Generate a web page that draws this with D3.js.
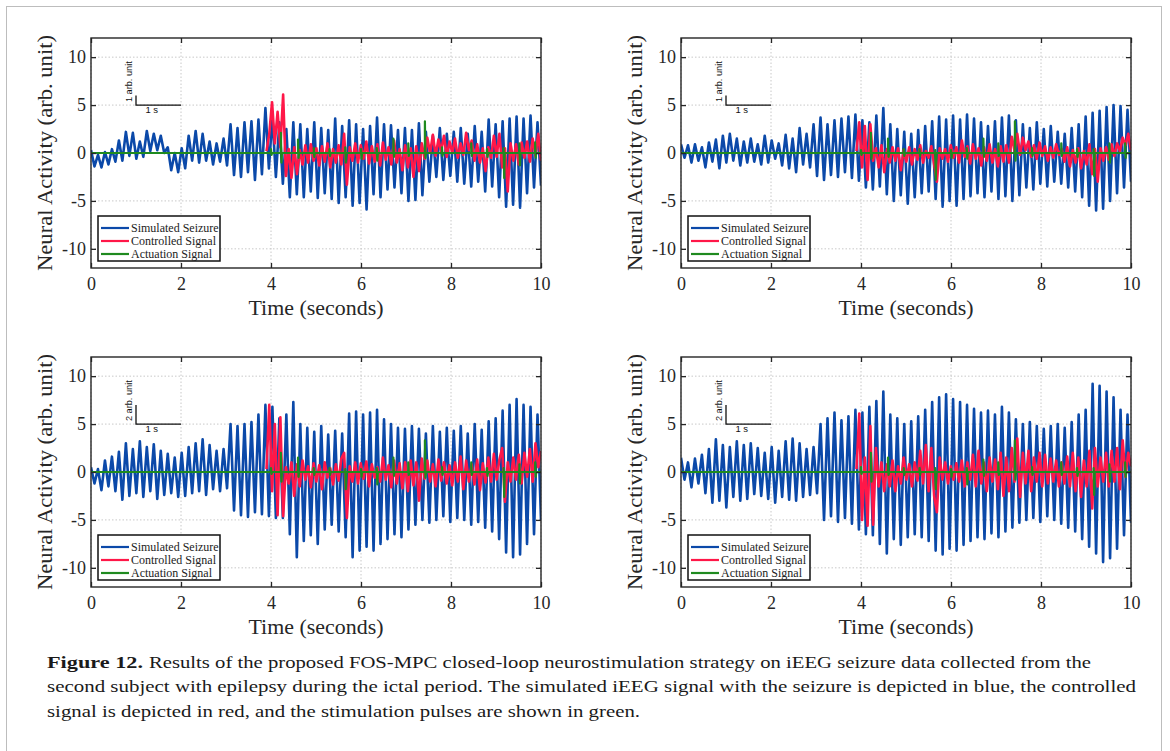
<!DOCTYPE html>
<html><head><meta charset="utf-8">
<script src="https://cdn.jsdelivr.net/npm/d3@7"></script>
<style>
body{margin:0;background:#fff;}
svg{display:block;}
</style></head><body>
<svg id="fig" width="1170" height="751"></svg>
<script>
// ---------------- DATA ----------------
const timeTicks = [0, 2, 4, 6, 8, 10];
const valueTicks = [-10, -5, 0, 5, 10];
const timeDomain = [0, 10];
const valueDomain = [-12, 12];
const legendLabels = ["Simulated Seizure", "Controlled Signal", "Actuation Signal"];
const xLabel = "Time (seconds)";
const yLabel = "Neural Activity (arb. unit)";
const scaleBarUnits = [1, 1, 2, 2];
const scaleBarLabels = ["1 arb. unit", "1 arb. unit", "2 arb. unit", "2 arb. unit"];
const scaleBarTimeLabel = "1 s";
const controlStart = 3.9;

// Simulated seizure: [peak, trough] per oscillation cycle, evenly spaced over 0-10 s
const seizure1 = [[0.3,-1.4],[-0.2,-1.5],[0.1,-1.2],[0.4,-0.9],[1.3,-0.8],[2.2,-0.3],[2.1,-0.6],[1.2,-0.4],[2.3,0.2],[2.0,0.3],
[1.8,0.0],[0.6,-1.8],[0.0,-2.0],[0.5,-1.6],[1.8,-0.8],[2.3,-1.0],[2.0,-0.8],[1.2,-1.2],[1.0,-0.9],[1.5,-1.3],
[3.0,-2.3],[2.6,-2.5],[3.2,-2.0],[3.3,-2.8],[3.5,-2.2],[4.7,-1.6],[3.8,-2.5],[3.2,-3.2],[2.5,-4.6],[3.2,-4.3],
[3.0,-4.6],[2.5,-4.0],[3.2,-4.7],[2.6,-4.2],[2.4,-4.8],[3.6,-5.2],[2.8,-4.6],[3.4,-5.5],[3.0,-5.2],[2.5,-5.9],
[2.8,-4.3],[3.7,-4.6],[3.0,-3.8],[2.9,-3.6],[2.4,-4.2],[2.6,-5.0],[2.4,-4.9],[3.1,-4.4],[2.2,-3.0],[1.8,-2.5],
[2.6,-2.8],[2.0,-2.4],[2.2,-3.0],[2.6,-3.2],[2.0,-3.5],[2.8,-3.0],[2.2,-4.0],[3.5,-3.5],[3.0,-4.6],[3.3,-5.6],
[3.6,-5.4],[3.8,-5.7],[3.6,-4.2],[3.9,-3.6],[3.2,-3.4]];
const seizure2 = [[0.9,-0.5],[0.8,-1.0],[0.9,-0.8],[0.6,-1.5],[1.1,-0.9],[1.4,-1.6],[1.8,-1.0],[2.0,-0.8],[1.5,-1.3],[1.2,-1.0],
[1.5,-0.9],[0.9,-1.2],[1.8,-1.0],[1.3,-0.6],[1.0,-1.3],[1.9,-1.6],[1.5,-2.0],[2.6,-1.2],[2.0,-1.5],[3.0,-2.4],
[3.7,-2.8],[3.0,-2.3],[3.4,-2.5],[3.6,-2.0],[3.8,-2.6],[4.0,-2.9],[3.4,-3.6],[3.2,-3.8],[3.9,-3.5],[4.7,-4.3],
[3.0,-5.0],[2.5,-4.4],[2.2,-5.3],[2.0,-4.6],[2.4,-4.2],[2.8,-4.0],[3.3,-4.8],[3.8,-5.6],[3.5,-5.0],[3.9,-5.5],
[3.5,-4.8],[4.0,-4.5],[3.6,-4.2],[3.2,-4.6],[2.8,-4.0],[3.3,-4.8],[3.7,-4.5],[3.9,-5.0],[3.4,-4.4],[3.0,-3.6],
[2.6,-3.8],[3.2,-3.2],[2.5,-3.5],[2.8,-3.0],[2.2,-3.2],[2.0,-3.6],[2.6,-4.0],[3.0,-4.6],[3.8,-5.5],[4.2,-6.0],
[4.4,-5.8],[4.8,-5.0],[5.0,-4.2],[4.9,-3.6],[4.5,-3.0]];
const seizure3 = [[0.5,-1.2],[0.3,-1.9],[1.2,-1.5],[1.6,-2.0],[2.1,-2.9],[3.0,-2.5],[2.4,-2.2],[3.2,-2.6],[2.6,-2.0],[2.9,-2.8],
[2.2,-2.4],[1.9,-2.2],[1.5,-2.6],[2.0,-2.5],[2.6,-2.2],[3.0,-2.0],[3.4,-2.4],[2.8,-1.8],[2.2,-2.0],[2.4,-1.7],
[5.0,-4.0],[4.8,-4.5],[5.0,-4.7],[5.2,-4.2],[6.0,-4.4],[7.0,-4.6],[6.8,-4.8],[5.6,-4.8],[6.0,-6.5],[7.3,-8.9],
[5.0,-7.2],[4.6,-6.6],[4.2,-7.5],[4.8,-6.0],[3.9,-5.5],[4.3,-6.2],[4.0,-6.8],[6.1,-8.9],[6.3,-8.2],[6.0,-7.8],
[6.2,-8.2],[6.5,-7.5],[5.5,-7.0],[5.0,-6.5],[4.6,-6.8],[4.5,-6.0],[4.8,-5.5],[4.5,-5.0],[4.0,-5.3],[4.8,-5.0],
[4.2,-4.6],[4.6,-5.2],[4.3,-4.8],[4.8,-5.0],[4.0,-5.5],[5.0,-5.2],[4.4,-5.8],[5.3,-6.2],[5.6,-7.0],[6.4,-8.4],
[7.0,-8.9],[7.6,-8.6],[7.0,-7.5],[6.8,-6.5],[6.0,-5.0]];
const seizure4 = [[1.5,-0.8],[1.0,-1.6],[1.4,-1.2],[1.8,-2.2],[2.4,-3.2],[3.4,-3.0],[2.8,-3.7],[2.6,-2.6],[3.2,-3.0],[2.8,-2.8],
[3.0,-2.3],[2.5,-2.5],[2.0,-2.8],[2.6,-3.2],[2.2,-2.6],[3.2,-2.9],[3.5,-3.0],[3.0,-2.6],[2.4,-2.4],[2.6,-2.2],
[5.0,-5.0],[5.6,-4.6],[6.2,-5.2],[5.4,-4.8],[5.8,-5.4],[6.5,-6.0],[6.2,-6.5],[6.8,-6.6],[7.4,-7.5],[8.4,-8.5],
[6.0,-7.0],[5.6,-7.6],[5.0,-6.8],[5.3,-6.5],[5.8,-6.8],[6.5,-7.2],[7.3,-8.2],[7.8,-8.6],[8.1,-8.0],[7.6,-8.2],
[7.3,-7.6],[7.0,-7.2],[6.6,-6.8],[6.2,-7.0],[6.4,-6.4],[6.0,-6.8],[6.8,-6.2],[6.2,-5.8],[5.5,-5.3],[5.0,-5.0],
[5.2,-4.8],[4.8,-5.2],[4.5,-4.6],[4.8,-5.0],[5.0,-5.4],[4.6,-5.8],[5.2,-6.2],[6.0,-7.0],[6.5,-7.8],[9.2,-8.5],
[9.0,-9.4],[8.4,-9.0],[7.8,-8.0],[6.5,-6.6],[6.0,-5.3]];

// Controlled signal: samples evenly spaced from 3.9 s to 10 s
const controlled1 = [0.2,2.0,5.3,1.0,4.3,0.6,6.1,-2.4,0.4,-2.6,0.6,-2.2,0.3,-1.2,0.8,-1.0,0.9,-0.8,0.5,-1.3,
0.7,-0.9,1.0,-1.5,0.4,-1.0,0.8,-1.2,2.0,-3.3,0.6,-0.8,1.0,-1.0,0.8,-0.6,1.2,-1.1,0.7,-0.9,
0.9,-1.3,1.1,-0.7,0.6,-1.2,1.3,-1.0,0.4,-1.8,0.8,-1.5,0.5,-2.5,0.7,-1.9,1.0,-0.6,1.6,0.0,
1.9,-0.3,1.4,0.2,1.8,-0.4,1.2,0.0,1.5,-0.5,1.0,-0.2,2.1,0.3,1.3,-0.8,0.9,-1.0,0.5,-1.9,
0.6,-0.5,1.8,-0.4,2.0,-1.5,0.5,-4.0,1.0,-0.8,0.9,-1.2,1.1,-0.5,1.2,-0.9,1.5,-0.3,2.0,-0.8];
const controlled2 = [0.2,3.2,-1.5,2.8,-2.8,3.0,-0.8,0.5,-1.5,0.8,-2.0,0.4,-1.0,0.6,-0.8,0.5,-1.8,0.3,-0.9,0.6,
-1.2,0.4,-0.7,0.8,-1.0,0.2,-0.5,0.7,-1.2,-3.0,0.5,-0.6,0.4,-0.9,0.8,-0.5,0.6,-1.0,1.3,-0.4,
0.7,-1.1,0.9,-0.6,0.5,-1.3,0.6,-0.8,0.9,-1.0,0.4,-1.4,0.7,-0.9,0.8,-1.0,1.7,0.2,2.0,-0.2,
1.6,0.3,1.2,-0.4,0.8,-0.6,1.1,-0.3,0.7,-0.8,0.6,-0.5,0.9,-0.2,0.4,-0.9,0.6,-1.4,0.3,-1.0,
0.5,-1.6,0.2,-1.2,0.9,-2.2,0.4,-3.0,0.5,-0.8,0.6,-0.7,0.9,-0.3,1.0,0.2,1.6,0.8,2.0,0.3];
const controlled3 = [0.3,7.0,-2.0,5.0,-4.5,5.7,-4.6,0.5,-1.2,1.0,-2.5,0.8,-1.5,1.2,-0.8,0.6,-1.6,0.9,-1.0,0.7,
-1.8,1.0,-0.6,0.4,-1.3,0.8,-0.9,1.4,2.0,-4.8,0.6,-1.0,1.0,-1.2,0.9,-0.7,1.1,-1.5,0.8,-0.6,
0.5,-1.0,1.5,-0.8,0.7,-1.6,1.2,-1.2,0.9,-1.7,1.0,-2.0,1.2,-1.4,1.0,-3.0,1.4,-0.7,1.2,-1.0,
0.8,-1.5,1.3,-0.9,1.0,-1.2,0.7,-1.4,1.0,-1.0,1.6,-1.8,1.2,-1.0,0.8,-1.3,1.3,-1.9,0.9,-1.1,
1.5,-1.0,1.9,-0.8,1.3,2.5,-3.1,1.0,-1.0,1.5,-0.8,1.8,-1.2,2.0,-0.5,2.4,-1.0,3.0,0.5,2.2];
const controlled4 = [0.3,6.1,-5.0,1.5,-5.6,4.8,-5.5,2.5,-1.5,1.0,-2.0,0.8,-1.5,1.2,-2.0,0.6,-1.2,1.5,-0.8,0.8,
-1.5,1.0,-0.9,2.2,-1.2,2.8,-2.0,2.5,-2.5,-4.2,1.5,-0.8,1.0,-1.2,0.6,-0.8,0.9,-1.0,1.2,-1.5,
1.0,-0.8,1.8,-1.5,2.2,-1.2,1.0,-2.0,1.5,-1.0,1.3,-1.8,2.0,-2.5,1.5,-2.0,2.5,-1.0,3.5,-2.6,
2.0,-1.2,2.2,-2.0,1.5,-1.0,2.0,-1.5,1.8,-1.2,1.4,-1.0,1.2,-1.5,1.0,-1.2,1.6,-1.5,2.0,-2.0,
1.5,-2.6,1.2,-1.5,2.2,-3.8,2.5,-1.5,1.5,-1.0,2.0,-1.5,2.2,-1.0,2.5,-1.8,3.3,-0.5,2.0,0.6];

// Actuation pulses: time (s), positive excursion, negative excursion
const pulseTimes = [4.0, 4.22, 4.6, 4.95, 5.3, 5.65, 6.0, 6.35, 6.72, 7.05, 7.42, 7.8, 8.45, 8.8, 9.17, 9.52, 9.87];
const pulseHigh1 = [0.4,2.1,1.4,0.5,0.4,0.6,0.4,0.5,1.5,1.0,3.3,0.6,1.0,0.4,0.5,1.0,1.1];
const pulseLow1  = [-0.2,-1.0,-0.5,-0.4,-0.3,-1.0,-0.6,-0.8,-0.4,-0.3,-0.5,-0.3,-0.3,-0.4,-2.6,-1.3,-0.5];
const pulseHigh2 = [0.3,2.1,1.5,0.4,0.4,0.3,0.3,0.5,1.5,1.0,3.3,0.5,1.0,0.4,0.4,1.0,1.0];
const pulseLow2  = [-0.2,-0.6,-0.4,-0.3,-0.3,-2.8,-0.5,-0.6,-0.4,-0.3,-0.8,-0.3,-0.3,-0.4,-2.4,-1.0,-0.5];
const pulseHigh3 = [0.4,2.0,1.5,0.4,0.4,0.3,0.3,0.4,1.5,1.0,3.3,0.5,1.0,0.4,0.4,0.8,1.0];
const pulseLow3  = [-0.2,-1.0,-0.5,-0.3,-0.3,-1.8,-0.5,-1.3,-0.4,-0.3,-0.6,-0.3,-0.3,-0.4,-2.6,-1.2,-0.5];
const pulseHigh4 = [0.5,2.0,1.5,0.4,0.4,0.4,0.3,0.4,1.3,1.0,3.3,0.5,1.0,0.4,0.4,0.8,1.0];
const pulseLow4  = [-0.2,-1.0,-0.3,-0.3,-0.3,-1.8,-0.5,-1.3,-0.4,-0.3,-0.8,-0.3,-0.3,-0.4,-2.4,-1.0,-0.5];

const captionBold = "Figure 12.";
const captionLines = [
  "Results of the proposed FOS-MPC closed-loop neurostimulation strategy on iEEG seizure data collected from the",
  "second subject with epilepsy during the ictal period. The simulated iEEG signal with the seizure is depicted in blue, the controlled",
  "signal is depicted in red, and the stimulation pulses are shown in green."
];

// ---------------- DRAWING ----------------
const COLORS = {blue: "#0b49a9", red: "#ff1748", green: "#1f8a1f"};
const serif = "'Liberation Serif', 'Times New Roman', serif";
const sans = "'Liberation Sans', Arial, sans-serif";

const svg = d3.select("#fig");

// outer frame
svg.append("rect").attr("x", 6.5).attr("y", 6.5).attr("width", 1155).attr("height", 760)
  .attr("fill", "none").attr("stroke", "#bdbdbd").attr("stroke-width", 1);

const panels = [
  {x0: 91, y0: 38, seizure: seizure1, controlled: controlled1, hi: pulseHigh1, lo: pulseLow1},
  {x0: 681, y0: 38, seizure: seizure2, controlled: controlled2, hi: pulseHigh2, lo: pulseLow2},
  {x0: 91, y0: 357, seizure: seizure3, controlled: controlled3, hi: pulseHigh3, lo: pulseLow3},
  {x0: 681, y0: 357, seizure: seizure4, controlled: controlled4, hi: pulseHigh4, lo: pulseLow4}
];
const W = 450, H = 230;

panels.forEach((p, pi) => {
  const x = d3.scaleLinear().domain(timeDomain).range([p.x0, p.x0 + W]);
  const y = d3.scaleLinear().domain(valueDomain).range([p.y0 + H, p.y0]);
  const g = svg.append("g");

  // grid
  g.append("g").selectAll("line").data(timeTicks).join("line")
    .attr("x1", d => x(d)).attr("x2", d => x(d)).attr("y1", p.y0).attr("y2", p.y0 + H)
    .attr("stroke", "#c8c8c8").attr("stroke-width", 1).attr("stroke-dasharray", "1.5,2");
  g.append("g").selectAll("line").data(valueTicks).join("line")
    .attr("y1", d => y(d)).attr("y2", d => y(d)).attr("x1", p.x0).attr("x2", p.x0 + W)
    .attr("stroke", "#c8c8c8").attr("stroke-width", 1).attr("stroke-dasharray", "1.5,2");

  // clip
  const cid = "clip" + pi;
  svg.append("clipPath").attr("id", cid).append("rect")
    .attr("x", p.x0).attr("y", p.y0).attr("width", W).attr("height", H);
  const plot = g.append("g").attr("clip-path", `url(#${cid})`);

  // seizure
  const sVals = p.seizure.flat();
  const sPts = sVals.map((v, i) => [i * (timeDomain[1] - timeDomain[0]) / (sVals.length - 1), v]);
  const line = d3.line().x(d => x(d[0])).y(d => y(d[1]));
  plot.append("path").attr("d", line(sPts)).attr("fill", "none")
    .attr("stroke", COLORS.blue).attr("stroke-width", 2.6).attr("stroke-linejoin", "round");

  // controlled
  const cVals = p.controlled;
  const cPts = cVals.map((v, i) => [controlStart + i * (timeDomain[1] - controlStart) / (cVals.length - 1), v]);
  plot.append("path").attr("d", line(cPts)).attr("fill", "none")
    .attr("stroke", COLORS.red).attr("stroke-width", 2.6).attr("stroke-linejoin", "round");

  // actuation
  const gPts = [[timeDomain[0], 0]];
  pulseTimes.forEach((t, i) => {
    gPts.push([t, 0], [t, p.hi[i]], [t + 0.012, p.lo[i]], [t + 0.024, 0]);
  });
  gPts.push([timeDomain[1], 0]);
  plot.append("path").attr("d", line(gPts)).attr("fill", "none")
    .attr("stroke", COLORS.green).attr("stroke-width", 2.2).attr("stroke-linejoin", "round");

  // axes (inward ticks)
  const axB = g.append("g").attr("transform", `translate(0,${p.y0 + H})`)
    .call(d3.axisBottom(x).tickValues(timeTicks).tickSize(-5).tickPadding(9).tickFormat(d3.format("d")));
  const axL = g.append("g").attr("transform", `translate(${p.x0},0)`)
    .call(d3.axisLeft(y).tickValues(valueTicks).tickSize(-5).tickPadding(5).tickFormat(d => d < 0 ? "-" + Math.abs(d) : d));
  const axT = g.append("g").attr("transform", `translate(0,${p.y0})`)
    .call(d3.axisTop(x).tickValues(timeTicks).tickSize(-5).tickFormat(""));
  const axR = g.append("g").attr("transform", `translate(${p.x0 + W},0)`)
    .call(d3.axisRight(y).tickValues(valueTicks).tickSize(-5).tickFormat(""));
  [axB, axL, axT, axR].forEach(a => {
    a.select(".domain").remove();
    a.selectAll(".tick line").attr("stroke", "#262626").attr("stroke-width", 1.3);
    a.selectAll("text").attr("font-family", serif).attr("font-size", 18).attr("fill", "#262626");
  });

  // box
  g.append("rect").attr("x", p.x0).attr("y", p.y0).attr("width", W).attr("height", H)
    .attr("fill", "none").attr("stroke", "#262626").attr("stroke-width", 1.4);

  // axis labels
  g.append("text").attr("x", x(5)).attr("y", p.y0 + H + 47).attr("text-anchor", "middle")
    .attr("font-family", serif).attr("font-size", 20).attr("fill", "#262626")
    .attr("textLength", 135).attr("lengthAdjust", "spacingAndGlyphs").text(xLabel);
  g.append("text").attr("transform", `translate(${p.x0 - 39},${y(0)}) rotate(-90)`).attr("text-anchor", "middle")
    .attr("font-family", serif).attr("font-size", 20).attr("fill", "#262626")
    .attr("textLength", 236).attr("lengthAdjust", "spacingAndGlyphs").text(yLabel);

  // scale bar
  const u = scaleBarUnits[pi];
  g.append("path").attr("d", `M${x(1)},${y(5 + u)} L${x(1)},${y(5)} L${x(2)},${y(5)}`)
    .attr("fill", "none").attr("stroke", "#111").attr("stroke-width", 1.3);
  g.append("text").attr("x", x(1.35)).attr("y", y(5) + 8).attr("text-anchor", "middle")
    .attr("font-family", sans).attr("font-size", 9.5).attr("fill", "#111").text(scaleBarTimeLabel);
  g.append("text").attr("transform", `translate(${x(1) - 4},${y(5) - 3}) rotate(-90)`)
    .attr("text-anchor", "start").attr("font-family", sans).attr("font-size", 9.2).attr("fill", "#111")
    .text(scaleBarLabels[pi]);

  // legend
  const lx = p.x0 + 7, ly = p.y0 + H - 52;
  const lg = g.append("g");
  lg.append("rect").attr("x", lx).attr("y", ly).attr("width", 122).attr("height", 45)
    .attr("fill", "#fff").attr("stroke", "#111").attr("stroke-width", 1.5);
  const lcolors = [COLORS.blue, COLORS.red, COLORS.green];
  legendLabels.forEach((lab, i) => {
    const cy = ly + 12 + i * 13;
    lg.append("line").attr("x1", lx + 3).attr("x2", lx + 31).attr("y1", cy).attr("y2", cy)
      .attr("stroke", lcolors[i]).attr("stroke-width", 2.2);
    lg.append("text").attr("x", lx + 33).attr("y", cy + 4).attr("font-family", serif)
      .attr("font-size", 12).attr("fill", "#222").text(lab);
  });
});

// caption
const cap = svg.append("g").attr("font-family", serif).attr("font-size", 17.5).attr("fill", "#1a1a1a");
cap.append("text").attr("x", 47).attr("y", 668).attr("font-weight", "bold")
  .attr("textLength", 96).attr("lengthAdjust", "spacingAndGlyphs").text(captionBold);
const capX = [149, 47, 47], capY = [668, 692, 717], capEnd = [1091, 1136, 640];
captionLines.forEach((t, i) => {
  cap.append("text").attr("x", capX[i]).attr("y", capY[i])
    .attr("textLength", capEnd[i] - capX[i]).attr("lengthAdjust", "spacingAndGlyphs").text(t);
});
</script>
</body></html>
